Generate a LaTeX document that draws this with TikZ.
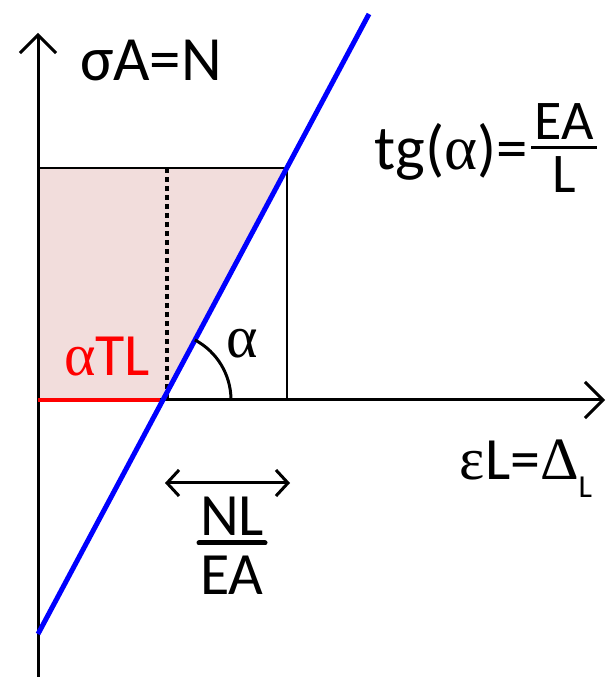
\documentclass[tikz,border=0pt]{standalone}
\usepackage{fontspec}
\setmainfont{Carlito}
\newfontfamily\grk{Liberation Serif}
\usetikzlibrary{arrows.meta}
\definecolor{shadefill}{RGB}{242,221,220}
\newcommand{\ga}{{\grk α}}
\begin{document}
\begin{tikzpicture}[x=1pt,y=1pt,
  axis/.style={line width=3pt,-{Straight Barb[length=18pt,width=36pt]}},
  dbl/.style={line width=3pt,{Straight Barb[length=12pt,width=26pt]}-{Straight Barb[length=12pt,width=26pt]}},
  lbl/.style={font=\fontsize{60}{62}\selectfont,inner sep=0pt},
  blbl/.style={font=\fontsize{63}{65}\selectfont,inner sep=0pt},
  slbl/.style={font=\fontsize{56}{58}\selectfont,inner sep=0pt},
]
\useasboundingbox (0,0) rectangle (606,677);
\coordinate (O) at (38,277);
\coordinate (P) at (163,277);
\coordinate (C) at (287,509);
\coordinate (TL) at (38,509);
\coordinate (CB) at (287,277);
\coordinate (DT) at (167,509);
\coordinate (DB) at (167,277);
\coordinate (ybot) at (38,0);
\coordinate (ytop) at (38,644);
\coordinate (xend) at (605,277);
\coordinate (rend) at (160,277);
\coordinate (b1) at (38,43);
\coordinate (b2) at (369,663);
\coordinate (arcS) at (231,277);
\coordinate (da1) at (165,194);
\coordinate (da2) at (290,194);
\coordinate (bar1) at (199,134);
\coordinate (bar2) at (265,134);
\coordinate (fb1) at (531,529);
\coordinate (fb2) at (597,529);
\fill[shadefill] (O) -- (P) -- (C) -- (TL) -- cycle;
\draw[line width=2.5pt] (TL) -- (C) -- (CB);
\draw[line width=3.5pt, dash pattern=on 5pt off 4pt] (DT) -- (DB);
\draw[axis] (ybot) -- (ytop);
\draw[axis] (O) -- (xend);
\draw[red,line width=3.5pt] (O) -- (rend);
\draw[blue,line width=5pt] (b1) -- (b2);
\draw[line width=3pt] (arcS) arc[start angle=0,end angle=62,radius=68pt];
\node[blbl] (sig) at (151,616) {σA=N};
\node[lbl] (alab) at (242,333) {\ga};
\node[lbl,red] (atl) at (107,320) {\ga TL};
\node[blbl,anchor=base east] (tg) at (528,507) {tg(\ga)=};
\node[slbl] (fnum) at (564,555) {EA};
\draw[line width=3pt] (fb1) -- (fb2);
\node[slbl] (fden) at (564,502) {L};
\node[lbl] (eps) at (526,208) {{\grk ε}L={\grk Δ}\raisebox{-0.3em}{\fontsize{32}{32}\selectfont L}};
\draw[dbl] (da1) -- (da2);
\node[lbl] (nl) at (232,161) {NL};
\draw[line width=5pt,line cap=round] (bar1) -- (bar2);
\node[lbl] (ea) at (232,102) {EA};
\end{tikzpicture}
\end{document}
